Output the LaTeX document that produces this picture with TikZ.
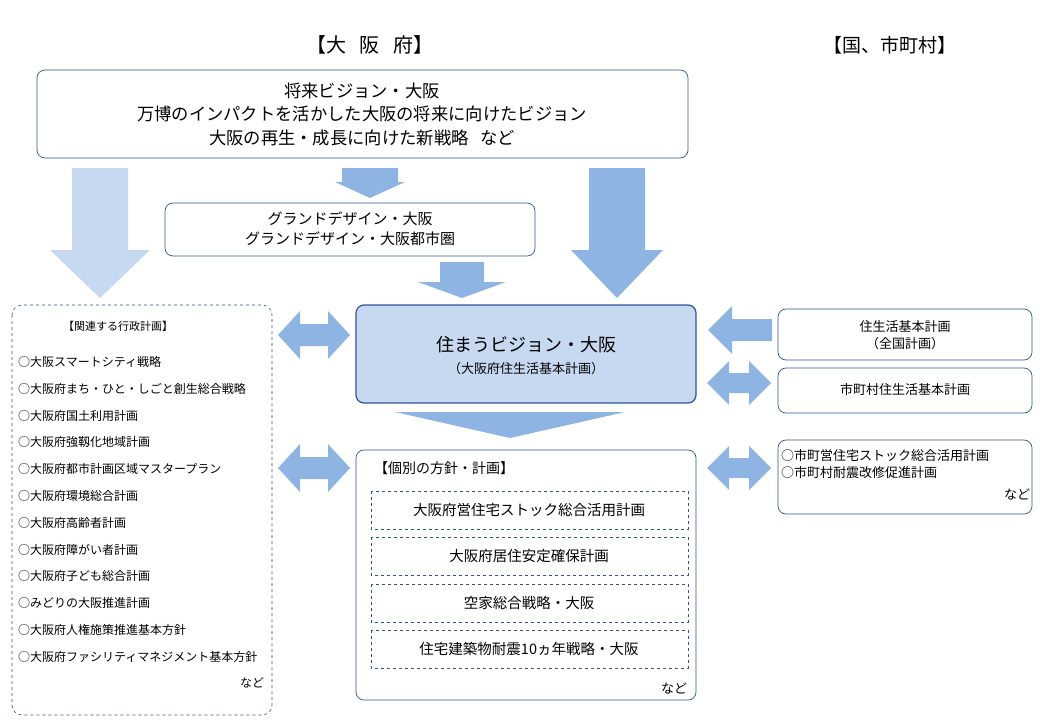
\documentclass[tikz,border=0pt]{standalone}
\usepackage{fontspec}
\setmainfont{Noto Sans CJK JP}
\begin{document}
\definecolor{bd}{HTML}{2F5597}
\definecolor{ar}{HTML}{8EB4E3}
\definecolor{lt}{HTML}{C6D9F1}
\newcommand\harr[5]{% cx cy L H h (double)
 \fill[ar] (#1-#3,#2) -- (#1-#3+22,#2-#4) -- (#1-#3+22,#2-#5) -- (#1+#3-22,#2-#5) -- (#1+#3-22,#2-#4) -- (#1+#3,#2) -- (#1+#3-22,#2+#4) -- (#1+#3-22,#2+#5) -- (#1-#3+22,#2+#5) -- (#1-#3+22,#2+#4) -- cycle;}
\newcommand\darr[7]{% color cx ytop ybot w W a
 \fill[#1] (#2-#5,#3) -- (#2+#5,#3) -- (#2+#5,#4-#7) -- (#2+#6,#4-#7) -- (#2,#4) -- (#2-#6,#4-#7) -- (#2-#5,#4-#7) -- cycle;}
\begin{tikzpicture}[x=1pt,y=-1pt,
  box/.style={draw=bd,rounded corners=8pt,line width=0.7pt,fill=white},
  dbox/.style={draw=bd,dashed,line width=0.6pt},
  t/.style={font=\fontsize{13}{17}\selectfont,align=center,inner sep=0}]
\useasboundingbox (0,0) rectangle (1040,720);
\node[t,font=\fontsize{20}{24}\selectfont] (h1) at (370,45) {【大\ \ \ 阪\ \ \ 府】};
\node[t,font=\fontsize{19}{24}\selectfont] (h2) at (890,45) {【国、市町村】};
\draw[box] (37,70) rectangle (688,158);
\node[t,font=\fontsize{17.3}{23.5}\selectfont] (top) at (362,114) {将来ビジョン・大阪\\万博のインパクトを活かした大阪の将来に向けたビジョン\\大阪の再生・成長に向けた新戦略\ \ \ など};
\darr{lt}{100}{168}{298}{28}{50}{48}
\darr{ar}{370}{168}{198}{28}{35}{16}
\darr{ar}{617}{168}{298}{28}{46}{48}
\draw[box] (165,203) rectangle (535,256);
\node[t,font=\fontsize{15}{20}\selectfont] (gd) at (350,229) {グランドデザイン・大阪\\グランドデザイン・大阪都市圏};
\darr{ar}{462}{262}{298}{22}{44}{16}
\draw[box,fill=lt,line width=1.2pt] (356,305) rectangle (696,403);
\node[t,font=\fontsize{18}{22}\selectfont] (c1) at (526,345) {住まうビジョン・大阪};
\node[t] (c2) at (526,369) {（大阪府住生活基本計画）};
\fill[ar] (395,412) -- (625,412) -- (510,438) -- cycle;
% left box
\draw[dbox,rounded corners=10pt] (12,305) rectangle (272,715);
\node[t,font=\fontsize{11}{14}\selectfont] (lt0) at (118,326) {【関連する行政計画】};
\foreach \s [count=\i] in {○大阪スマートシティ戦略,○大阪府まち・ひと・しごと創生総合戦略,○大阪府国土利用計画,○大阪府強靱化地域計画,○大阪府都市計画区域マスタープラン,○大阪府環境総合計画,○大阪府高齢者計画,○大阪府障がい者計画,○大阪府子ども総合計画,○みどりの大阪推進計画,○大阪府人権施策推進基本方針,○大阪府ファシリティマネジメント基本方針}
  \node[t,anchor=west,font=\fontsize{12}{15}\selectfont] (l\i) at (18,{362+26.8*(\i-1)}) {\s};
\node[t,font=\fontsize{12}{15}\selectfont] (lnd) at (252,683) {など};
\harr{314}{335}{36}{24}{11}
\harr{314}{468}{36}{24}{11}
\harr{739}{383}{32}{22}{10}
\harr{739}{468}{32}{22}{10}
\fill[ar] (708,330) -- (732,306) -- (732,319) -- (772,319) -- (772,341) -- (732,341) -- (732,354) -- cycle;
% right boxes
\draw[box] (778,309) rectangle (1032,360);
\node[t] (r1) at (905,335) {住生活基本計画\\（全国計画）};
\draw[box] (778,368) rectangle (1032,413);
\node[t] (r2) at (905,390) {市町村住生活基本計画};
\draw[box] (778,440) rectangle (1032,514);
\node[t,align=left,anchor=north west] (r3) at (781,449) {○市町営住宅ストック総合活用計画\\○市町村耐震改修促進計画};
\node[t] (r3b) at (1017,495) {など};
% individual box
\draw[box] (356,450) rectangle (696,700);
\node[t,font=\fontsize{14}{18}\selectfont] (i0) at (444,468) {【個別の方針・計画】};
\foreach \y/\s [count=\i] in {491/大阪府営住宅ストック総合活用計画,537/大阪府居住安定確保計画,584/空家総合戦略・大阪,630/住宅建築物耐震10ヵ年戦略・大阪}{
  \draw[dbox,line width=0.5pt] (371,\y) rectangle (688,\y+38);
  \node[t,font=\fontsize{14.5}{18}\selectfont] (p\i) at (529,\y+19) {\s};}
\node[t] (ind) at (674,689) {など};
\end{tikzpicture}
\end{document}
